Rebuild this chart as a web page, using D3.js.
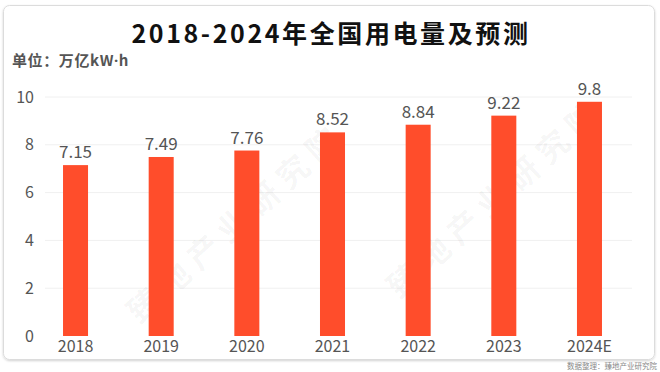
<!DOCTYPE html>
<html><head><meta charset="utf-8">
<script src="https://cdn.jsdelivr.net/npm/d3@7"></script>
<style>
html,body{margin:0;padding:0;background:#fff;}
svg{display:block;font-family:"Noto Sans CJK SC","Noto Sans",sans-serif;}
</style></head>
<body>
<svg id="c" width="660" height="372"></svg>
<script>
const categories = ["2018","2019","2020","2021","2022","2023","2024E"];
const values = [7.15, 7.49, 7.76, 8.52, 8.84, 9.22, 9.8];
const valueLabels = ["7.15","7.49","7.76","8.52","8.84","9.22","9.8"];
const yTicks = [0, 2, 4, 6, 8, 10];
const title = "2018-2024年全国用电量及预测";
const unitPrefix = "单位：万亿kW";
const unitDot = "·";
const unitSuffix = "h";
const sourceLabel = "数据整理：臻地产业研究院";
const watermark = "臻地产业研究院";

const svg = d3.select("#c");
const defs = svg.append("defs");
const f = defs.append("filter").attr("id","sh").attr("x","-5%").attr("y","-5%").attr("width","110%").attr("height","110%");
f.append("feDropShadow").attr("dx",0).attr("dy",1).attr("stdDeviation",1.2).attr("flood-color","#000").attr("flood-opacity",0.18);

// card
svg.append("rect").attr("x",3.5).attr("y",5.5).attr("width",651).attr("height",354)
  .attr("rx",6).attr("fill","#fff").attr("stroke","#dcdcdc").attr("filter","url(#sh)");

const x = d3.scaleBand().domain(categories).range([32.7, 632.3]).paddingInner(0.708).paddingOuter(0.354);
const y = d3.scaleLinear().domain([0,10]).range([336, 97]);

// gridlines
svg.append("g").selectAll("line").data(yTicks.filter(d=>d>0)).join("line")
  .attr("x1",45).attr("x2",632).attr("y1",d=>y(d)).attr("y2",d=>y(d))
  .attr("stroke","#f0f0f0").attr("stroke-width",1);

// y axis
const yAxis = svg.append("g").attr("transform","translate(38,0)")
  .call(d3.axisLeft(y).tickValues(yTicks).tickSize(0).tickPadding(4));
yAxis.select(".domain").remove();
yAxis.selectAll("text").attr("font-size",16).attr("fill","#555").attr("font-family","'Noto Sans CJK SC',sans-serif");

// x axis
const xAxis = svg.append("g").attr("transform","translate(0,337)")
  .call(d3.axisBottom(x).tickSize(0).tickPadding(4));
xAxis.select(".domain").remove();
xAxis.selectAll("text").attr("font-size",16).attr("fill","#555").attr("font-family","'Noto Sans CJK SC',sans-serif");

// watermark
const wm = svg.append("g").attr("fill","#000").attr("fill-opacity",0.045).attr("font-weight",700);
wm.append("text").attr("transform","translate(140,325) rotate(-42)").attr("font-size",32).attr("letter-spacing",8).text(watermark);
wm.append("text").attr("transform","translate(400,300) rotate(-42)").attr("font-size",32).attr("letter-spacing",8).text(watermark);

// bars
svg.append("g").selectAll("rect").data(values).join("rect")
  .attr("x",(d,i)=>x(categories[i])).attr("width",x.bandwidth())
  .attr("y",d=>y(d)).attr("height",d=>y(0)-y(d)).attr("fill","#ff4d2b");

// value labels
svg.append("g").selectAll("text").data(values).join("text")
  .attr("x",(d,i)=>x(categories[i])+x.bandwidth()/2).attr("y",d=>y(d)-7)
  .attr("text-anchor","middle").attr("font-size",17).attr("fill","#555")
  .text((d,i)=>valueLabels[i]);

// title
svg.append("text").attr("x",331).attr("y",43).attr("text-anchor","middle")
  .attr("font-size",25).attr("font-weight",700).attr("fill","#111").attr("letter-spacing",2.6)
  .text(title);

// unit
const u = svg.append("text").attr("x",12).attr("y",66).attr("font-size",15).attr("font-weight",700).attr("fill","#555").attr("letter-spacing",0.6);
u.append("tspan").text(unitPrefix);
u.append("tspan").attr("font-family","'Noto Sans',sans-serif").text(unitDot);
u.append("tspan").text(unitSuffix);

// source
svg.append("text").attr("x",657).attr("y",369).attr("text-anchor","end").attr("font-size",7.5).attr("fill","#888")
  .text(sourceLabel);
</script>
</body></html>
